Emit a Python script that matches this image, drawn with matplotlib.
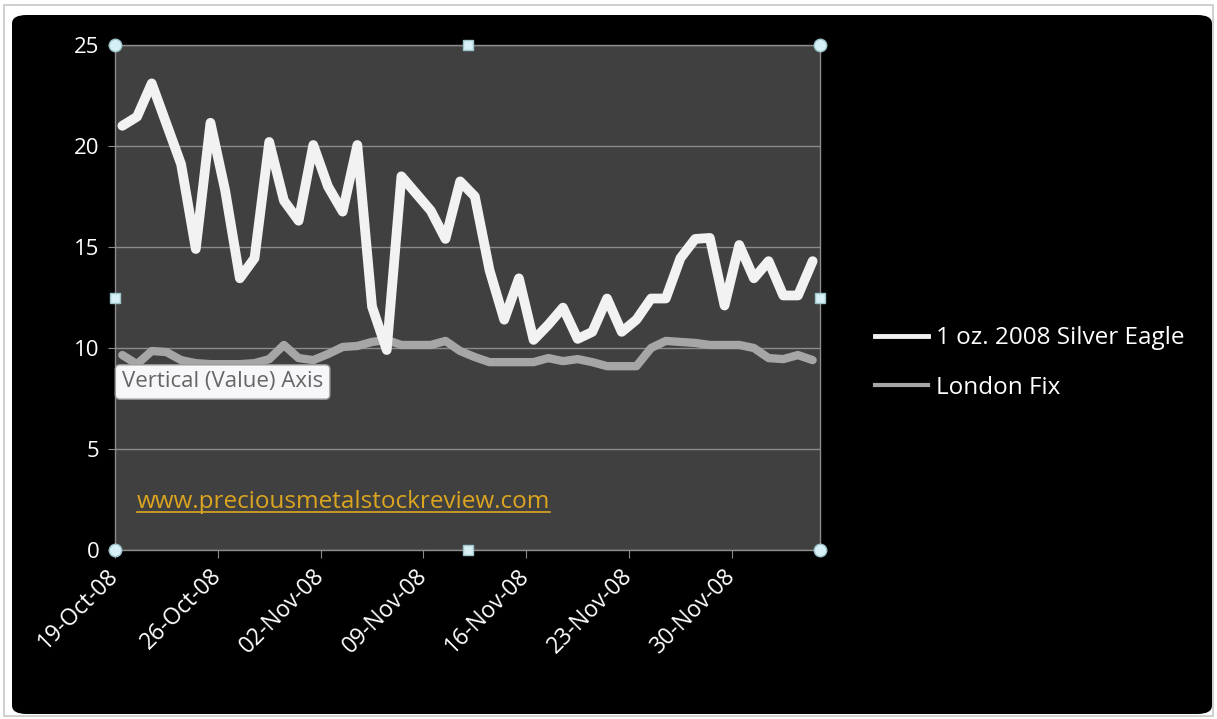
import matplotlib
matplotlib.use('Agg')
import matplotlib.pyplot as plt
from matplotlib.patches import FancyBboxPatch, Rectangle
from matplotlib.lines import Line2D
import pandas as pd

# ---------------- data ----------------
dates = pd.date_range('2008-10-19', '2008-12-05', freq='D')
silver_eagle = [21.0, 21.45, 23.1, 21.1, 19.1, 14.9, 21.15, 17.8, 13.45, 14.45,
                20.2, 17.3, 16.3, 20.05, 18.0, 16.75, 20.05, 12.05, 9.9, 18.5,
                17.65, 16.8, 15.4, 18.25, 17.5, 13.85, 11.4, 13.45, 10.4, 11.15,
                12.0, 10.45, 10.8, 12.45, 10.8, 11.4, 12.45, 12.45, 14.45, 15.4,
                15.45, 12.1, 15.1, 13.45, 14.3, 12.6, 12.6, 14.3]
london_fix = [9.65, 9.2, 9.85, 9.8, 9.4, 9.25, 9.2, 9.2, 9.2, 9.25,
              9.45, 10.15, 9.5, 9.4, 9.7, 10.05, 10.1, 10.3, 10.4, 10.15,
              10.15, 10.15, 10.35, 9.85, 9.55, 9.3, 9.3, 9.3, 9.3, 9.5,
              9.35, 9.45, 9.3, 9.1, 9.1, 9.1, 10.0, 10.35, 10.3, 10.25,
              10.15, 10.15, 10.15, 10.0, 9.5, 9.45, 9.65, 9.4]
series_labels = ['1 oz. 2008 Silver Eagle', 'London Fix']
y_ticks = [0, 5, 10, 15, 20, 25]
x_tick_dates = pd.date_range('2008-10-19', '2008-11-30', freq='7D')
watermark = 'www.preciousmetalstockreview.com'
tooltip = 'Vertical (Value) Axis'

# ---------------- figure ----------------
W, H = 1217, 719
plt.rcParams['font.family'] = ['Open Sans', 'DejaVu Sans']
fig = plt.figure(figsize=(W / 100, H / 100), dpi=100, facecolor='white')

fig.patches.append(Rectangle((4 / W, 3 / H), 1209 / W, 711 / H, transform=fig.transFigure,
                             fc='white', ec='#C8C8C8', lw=1.2, zorder=-3))
fig.patches.append(FancyBboxPatch((12 / W, 5 / H), 1200 / W, 699 / H,
                                  boxstyle='round,pad=0,rounding_size=0.012',
                                  transform=fig.transFigure, fc='black', ec='none', zorder=-2))

ax = fig.add_axes([115 / W, (H - 550) / H, 705 / W, 505 / H])
ax.set_facecolor('#404040')

x = dates + pd.Timedelta(hours=12)
grid_c = '#8C8C8C'
ax.plot(x, london_fix, color='#A6A6A6', lw=6, solid_joinstyle='round',
        solid_capstyle='round', zorder=2)
ax.plot(x, silver_eagle, color='#F2F2F2', lw=7, solid_joinstyle='round',
        solid_capstyle='round', zorder=3)

ax.set_xlim(dates[0], dates[-1] + pd.Timedelta(days=1))
ax.set_ylim(0, 25)
ax.set_yticks(y_ticks)
ax.set_xticks(x_tick_dates)
ax.set_xticklabels([d.strftime('%d-%b-%y') for d in x_tick_dates],
                   rotation=45, ha='right', va='center', rotation_mode='anchor')
ax.tick_params(axis='x', direction='out', length=6, color=grid_c, labelcolor='white',
               labelsize=16.5, pad=10)
ax.tick_params(axis='y', direction='out', length=5, color=grid_c, labelcolor='white',
               labelsize=16, pad=6)
ax.yaxis.grid(True, color=grid_c, lw=1)
ax.set_axisbelow(True)
for s in ax.spines.values():
    s.set_color(grid_c)
    s.set_linewidth(1)

# selection handles
ax.plot([0, 1, 0, 1], [0, 0, 1, 1], 'o', transform=ax.transAxes, clip_on=False, ms=9,
        mfc='#D6F0F5', mec='#9FC4CC', mew=1, zorder=10)
ax.plot([0.5, 0.5, 0, 1], [0, 1, 0.5, 0.5], 's', transform=ax.transAxes, clip_on=False, ms=7,
        mfc='#D6F0F5', mec='#9FC4CC', mew=1, zorder=10)

# watermark
wt = ax.text(0.031, 0.095, watermark, transform=ax.transAxes, color='#DCA520',
             fontsize=17.5, va='center', ha='left', zorder=5)

# legend
handles = [Line2D([], [], color='#F2F2F2', lw=3.5), Line2D([], [], color='#A6A6A6', lw=3)]
fig.legend(handles, series_labels, loc='center left', bbox_to_anchor=(875 / W, 1 - 363 / H),
           frameon=False, fontsize=17.5, labelcolor='white', handlelength=2.2,
           handletextpad=0.3, labelspacing=1.05, borderpad=0, borderaxespad=0)

# tooltip
fig.text(122 / W, 1 - 382 / H, tooltip, color='#666666', fontsize=16, ha='left', va='center',
         zorder=20, bbox=dict(boxstyle='round,pad=0.3,rounding_size=0.2', fc='#F7F7FA',
                              ec='#9A9A9A', lw=1))

# underline the watermark
fig.canvas.draw()
bb = wt.get_window_extent()
y_ul = bb.y0 + 2
fig.add_artist(Line2D([bb.x0 / W, bb.x1 / W], [y_ul / H, y_ul / H], color='#DCA520', lw=1.2,
                      transform=fig.transFigure, zorder=6))

fig.savefig('out.png', dpi=100, facecolor='white')
